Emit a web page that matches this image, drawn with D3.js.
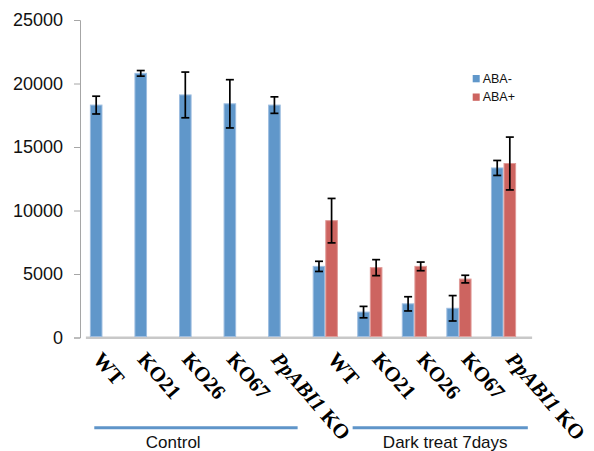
<!DOCTYPE html>
<html>
<head>
<meta charset="utf-8">
<script src="https://cdn.jsdelivr.net/npm/d3@7"></script>
<style>
  html, body { margin: 0; padding: 0; background: #fff; }
  svg { display: block; }
</style>
</head>
<body>
<svg id="chart" width="594" height="451"></svg>
<script>
// ---- data ----
const categories = ["WT", "KO21", "KO26", "KO67", "PpABI1 KO", "WT", "KO21", "KO26", "KO67", "PpABI1 KO"];
const seriesNames = ["ABA-", "ABA+"];
const abaMinus    = [18300, 20800, 19100, 18400, 18300, 5600, 2000, 2650, 2300, 13350];
const abaMinusErr = [700, 220, 1800, 1900, 650, 400, 450, 560, 1000, 590];
const abaPlus     = [null, null, null, null, null, 9200, 5500, 5600, 4600, 13700];
const abaPlusErr  = [null, null, null, null, null, 1750, 630, 340, 300, 2080];
const yTicks = [0, 5000, 10000, 15000, 20000, 25000];
const groups = [
  { name: "Control", from: 0, to: 4 },
  { name: "Dark treat 7days", from: 5, to: 9 }
];

// ---- layout ----
const svg = d3.select("#chart");
const colors = ["#6097ca", "#cd6460"];
const strokeColors = ["#9dbde0", "#e09a97"];

const keys = categories.map((c, i) => i);
const x = d3.scaleBand().domain(keys).range([80.2, 525.8]).paddingInner(0.4345).paddingOuter(0.2173);
const xs = d3.scaleBand().domain(seriesNames).range([0, x.bandwidth()]);
const y = d3.scaleLinear().domain([0, 25000]).range([337.5, 20]);

// y axis
const yAxis = d3.axisLeft(y).tickValues(yTicks).tickSize(6).tickPadding(11).tickFormat(d3.format("d"));
const ya = svg.append("g").attr("transform", "translate(80,0)").call(yAxis);
ya.select(".domain").attr("stroke", "#a6a6a6").attr("stroke-width", 1);
ya.selectAll(".tick line").attr("stroke", "#a6a6a6");
ya.selectAll(".tick text").attr("font-family", "Liberation Sans, Arial, sans-serif")
  .attr("font-size", 18).attr("fill", "#111");

// x axis line
svg.append("line")
  .attr("x1", x(0) - 4).attr("x2", x(9) + x.bandwidth() + 16)
  .attr("y1", y(0) + 0.2).attr("y2", y(0) + 0.2)
  .attr("stroke", "#c8c8c8").attr("stroke-width", 2.6);

// bars
const series = [
  { name: seriesNames[0], vals: abaMinus, errs: abaMinusErr, i: 0 },
  { name: seriesNames[1], vals: abaPlus, errs: abaPlusErr, i: 1 }
];
series.forEach(s => {
  const pts = s.vals.map((v, k) => ({ k, v, e: s.errs[k] })).filter(d => d.v != null);
  const g = svg.append("g");
  g.selectAll("rect").data(pts).join("rect")
    .attr("x", d => x(d.k) + xs(s.name) + 0.5)
    .attr("width", xs.bandwidth() - 1)
    .attr("y", d => y(d.v))
    .attr("height", d => y(0) - y(d.v) - 1)
    .attr("fill", colors[s.i])
    .attr("stroke", strokeColors[s.i]).attr("stroke-width", 1);
  const eg = g.selectAll("g.err").data(pts).join("g").attr("class", "err")
    .attr("stroke", "#000").attr("stroke-width", 1.7);
  const cx = d => x(d.k) + xs(s.name) + xs.bandwidth() / 2;
  eg.append("line").attr("x1", cx).attr("x2", cx)
    .attr("y1", d => y(d.v + d.e)).attr("y2", d => y(d.v - d.e));
  eg.append("line").attr("x1", d => cx(d) - 4).attr("x2", d => cx(d) + 4)
    .attr("y1", d => y(d.v + d.e)).attr("y2", d => y(d.v + d.e));
  eg.append("line").attr("x1", d => cx(d) - 4).attr("x2", d => cx(d) + 4)
    .attr("y1", d => y(d.v - d.e)).attr("y2", d => y(d.v - d.e));
});

// x labels (rotated, bold serif)
const groupOf = k => groups.findIndex(g => k >= g.from && k <= g.to);
const lab = svg.append("g").selectAll("text").data(keys).join("text")
  .attr("transform", k => `translate(${x(k) + x.bandwidth() / 2 + (groupOf(k) === 0 ? 0 : 12)},351) rotate(49)`)
  .attr("y", 13.9)
  .attr("font-family", "Liberation Serif, Times New Roman, serif")
  .attr("font-weight", "bold").attr("font-size", 21).attr("fill", "#000");
lab.each(function(k) {
  const t = d3.select(this);
  const parts = categories[k].split(" ");
  if (parts.length > 1) {
    t.append("tspan").attr("font-style", "italic").text(parts[0]);
    t.append("tspan").text(" " + parts.slice(1).join(" "));
  } else {
    t.text(categories[k]);
  }
});

// group lines + labels
const gl = svg.append("g");
groups.forEach((gr, gi) => {
  const x1 = gi === 0 ? x(gr.from) + 4.4 : x(gr.from + 1) - 4.6;
  const x2 = gi === 0 ? x(gr.to) + x.bandwidth() + 4.3 : x(gr.to) + x.bandwidth() + 11.7;
  gl.append("line").attr("x1", x1).attr("x2", x2).attr("y1", 427.7).attr("y2", 427.7)
    .attr("stroke", "#5f95c9").attr("stroke-width", 3);
  const tc = gi === 0 ? (x1 + x2) / 2 - 22.7 : (x1 + x2) / 2 + 5;
  gl.append("text").attr("x", tc).attr("y", 448)
    .attr("text-anchor", "middle")
    .attr("font-family", "Liberation Sans, Arial, sans-serif")
    .attr("font-size", 17).attr("fill", "#111")
    .text(gr.name);
});

// legend
const lg = svg.append("g").attr("transform", "translate(472.7,75)");
seriesNames.forEach((n, i) => {
  lg.append("rect").attr("x", 0).attr("y", i * 18.5).attr("width", 7).attr("height", 7.3)
    .attr("fill", colors[i]);
  lg.append("text").attr("x", 10).attr("y", i * 18.5 + 7.8)
    .attr("font-family", "Liberation Sans, Arial, sans-serif")
    .attr("font-size", 12.5).attr("fill", "#111").text(n);
});
</script>
</body>
</html>
